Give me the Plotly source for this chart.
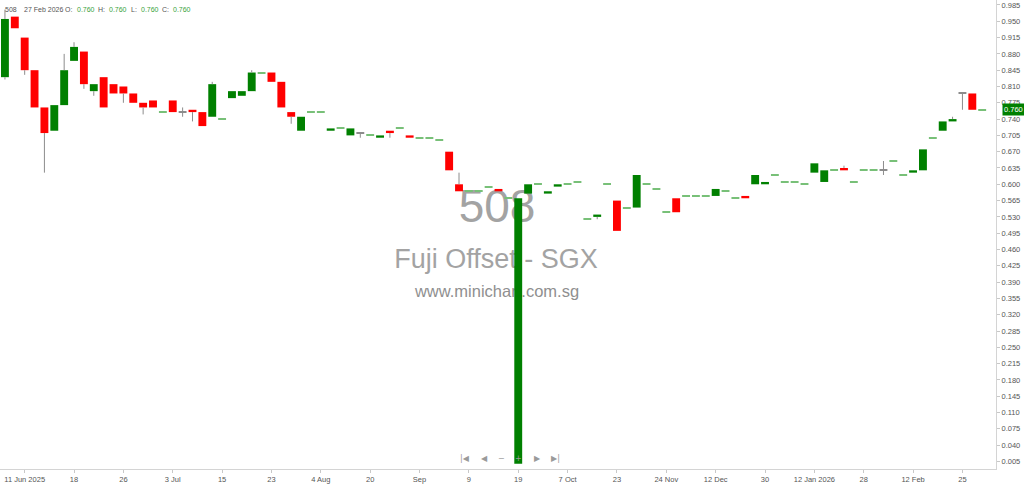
import plotly.graph_objects as go

# ---------------- data ----------------
opens = [0.830, 0.960, 0.915, 0.845, 0.765, 0.715, 0.770, 0.865, 0.885, 0.800,
         0.830, 0.815, 0.810, 0.795, 0.775, 0.780, 0.755, 0.780, 0.755, 0.760,
         0.755, 0.745, 0.740, 0.785, 0.790, 0.800, 0.840, 0.840, 0.820, 0.755,
         0.715, 0.755, 0.755, 0.715, 0.720, 0.705, 0.710, 0.705, 0.700, 0.715,
         0.720, 0.705, 0.700, 0.700, 0.695, 0.670, 0.600, 0.585, 0.585, 0.595,
         0.590, 0.570, 0.000, 0.580, 0.600, 0.580, 0.595, 0.600, 0.605, 0.525,
         0.530, 0.600, 0.565, 0.550, 0.550, 0.600, 0.590, 0.540, 0.570, 0.575,
         0.575, 0.575, 0.575, 0.585, 0.570, 0.575, 0.600, 0.600, 0.620, 0.605,
         0.605, 0.600, 0.625, 0.605, 0.630, 0.635, 0.605, 0.630, 0.630, 0.630,
         0.650, 0.620, 0.625, 0.630, 0.700, 0.715, 0.735, 0.795, 0.795, 0.760]
highs = [0.975, 0.960, 0.915, 0.845, 0.765, 0.770, 0.880, 0.905, 0.885, 0.815,
         0.830, 0.815, 0.810, 0.795, 0.775, 0.780, 0.755, 0.780, 0.765, 0.760,
         0.755, 0.820, 0.740, 0.800, 0.800, 0.845, 0.840, 0.840, 0.820, 0.755,
         0.745, 0.755, 0.755, 0.720, 0.720, 0.720, 0.710, 0.705, 0.705, 0.715,
         0.720, 0.705, 0.700, 0.700, 0.695, 0.670, 0.625, 0.585, 0.585, 0.595,
         0.590, 0.570, 0.570, 0.600, 0.600, 0.585, 0.600, 0.600, 0.605, 0.525,
         0.535, 0.600, 0.565, 0.550, 0.620, 0.600, 0.590, 0.540, 0.570, 0.575,
         0.575, 0.575, 0.590, 0.585, 0.570, 0.575, 0.620, 0.605, 0.620, 0.605,
         0.605, 0.600, 0.645, 0.630, 0.630, 0.640, 0.605, 0.630, 0.630, 0.650,
         0.650, 0.620, 0.630, 0.675, 0.700, 0.735, 0.745, 0.795, 0.795, 0.760]
lows = [0.825, 0.935, 0.835, 0.765, 0.625, 0.715, 0.770, 0.865, 0.805, 0.790,
        0.765, 0.795, 0.775, 0.775, 0.750, 0.765, 0.755, 0.755, 0.745, 0.735,
        0.725, 0.745, 0.740, 0.785, 0.790, 0.800, 0.840, 0.820, 0.765, 0.730,
        0.715, 0.755, 0.755, 0.715, 0.720, 0.705, 0.700, 0.705, 0.700, 0.700,
        0.720, 0.700, 0.700, 0.700, 0.695, 0.630, 0.585, 0.585, 0.585, 0.595,
        0.585, 0.570, 0.000, 0.580, 0.600, 0.580, 0.595, 0.600, 0.605, 0.525,
        0.525, 0.600, 0.500, 0.550, 0.550, 0.600, 0.590, 0.540, 0.540, 0.575,
        0.575, 0.575, 0.575, 0.585, 0.570, 0.570, 0.600, 0.600, 0.620, 0.605,
        0.605, 0.600, 0.625, 0.605, 0.630, 0.630, 0.605, 0.630, 0.630, 0.620,
        0.650, 0.620, 0.625, 0.630, 0.700, 0.715, 0.735, 0.760, 0.760, 0.760]
closes = [0.955, 0.935, 0.845, 0.765, 0.710, 0.770, 0.845, 0.895, 0.815, 0.815,
          0.765, 0.795, 0.795, 0.775, 0.765, 0.765, 0.755, 0.755, 0.755, 0.755,
          0.725, 0.815, 0.740, 0.800, 0.800, 0.840, 0.840, 0.820, 0.765, 0.745,
          0.745, 0.755, 0.755, 0.720, 0.720, 0.720, 0.710, 0.705, 0.705, 0.710,
          0.720, 0.700, 0.700, 0.700, 0.695, 0.630, 0.585, 0.585, 0.585, 0.595,
          0.585, 0.570, 0.570, 0.600, 0.600, 0.585, 0.600, 0.600, 0.605, 0.525,
          0.535, 0.600, 0.500, 0.550, 0.620, 0.600, 0.590, 0.540, 0.540, 0.575,
          0.575, 0.575, 0.590, 0.585, 0.570, 0.570, 0.620, 0.605, 0.620, 0.605,
          0.605, 0.600, 0.645, 0.630, 0.630, 0.630, 0.605, 0.630, 0.630, 0.630,
          0.650, 0.620, 0.630, 0.675, 0.700, 0.735, 0.740, 0.795, 0.760, 0.760]

x_tick_index = [2, 7, 12, 17, 22, 27, 32, 37, 42, 47, 52, 57, 62, 67, 72, 77, 82, 87, 92, 97]
x_tick_labels = ["11 Jun 2025", "18", "26", "3 Jul", "15", "23", "4 Aug", "20", "Sep", "9",
                 "19", "7 Oct", "23", "24 Nov", "12 Dec", "30", "12 Jan 2026", "28", "12 Feb", "25"]
y_tick_values = [0.005, 0.040, 0.075, 0.110, 0.145, 0.180, 0.215, 0.250, 0.285, 0.320,
                 0.355, 0.390, 0.425, 0.460, 0.495, 0.530, 0.565, 0.600, 0.635, 0.670,
                 0.705, 0.740, 0.775, 0.810, 0.845, 0.880, 0.915, 0.950, 0.985]
symbol = "508"
company = "Fuji Offset - SGX"
site = "www.minichart.com.sg"
last_date = "27 Feb 2026"

# ---------------- styling ----------------
UP = "#008000"
DOWN = "#ff0000"
DOJI = "#78c078"
WICK = "#8c8c8c"
TXT = "#555555"
VAL = "#3aa23a"
FONT = "Liberation Sans"
DOJI_H = 0.0022

idx = list(range(len(opens)))

# bodies
bases, heights, colors = [], [], []
for o, h, l, c in zip(opens, highs, lows, closes):
    if c > o:
        bases.append(o); heights.append(c - o); colors.append(UP)
    elif c < o:
        bases.append(c); heights.append(o - c); colors.append(DOWN)
    else:
        bases.append(o - DOJI_H / 2); heights.append(DOJI_H)
        colors.append(WICK if h > l else DOJI)

# wicks (only the parts outside the body)
wx, wy = [], []
for i, (o, h, l, c) in enumerate(zip(opens, highs, lows, closes)):
    top, bot = max(o, c), min(o, c)
    if h > top:
        wx += [i, i, None]; wy += [top, h, None]
    if l < bot:
        wx += [i, i, None]; wy += [l, bot, None]

fig = go.Figure()
fig.add_trace(go.Bar(x=idx, y=heights, base=bases, width=0.8,
                     marker=dict(color=colors, line=dict(width=0)),
                     hoverinfo="skip", showlegend=False))
fig.add_trace(go.Scatter(x=wx, y=wy, mode="lines",
                         line=dict(color=WICK, width=1),
                         hoverinfo="skip", showlegend=False))

W_PLOT, H_PLOT = 996, 469

def px(xp):
    return xp / W_PLOT

def py(yp):
    return 1 - yp / H_PLOT

# watermark (below traces)
shapes = []
for text, cx, cy, size, col in [
    (symbol, 497, 202, 46, "#a3a3a3"),
    (company, 496, 256, 27, "#a3a3a3"),
    (site, 497, 289, 16.5, "#8f8f8f"),
]:
    shapes.append(dict(type="rect", xref="paper", yref="paper",
                       x0=px(cx - 150), x1=px(cx + 150),
                       y0=py(cy + 20), y1=py(cy - 20),
                       line=dict(width=0), fillcolor="rgba(0,0,0,0)", layer="below",
                       label=dict(text=text, textposition="middle center",
                                  font=dict(family="Liberation Sans", size=size, color=col))))

annotations = []
# header
last_o, last_h, last_l, last_c = opens[-1], highs[-1], lows[-1], closes[-1]
header_parts = [
    (symbol, 3, TXT), (last_date, 22, TXT),
    ("O:", 63, TXT), (f"{last_o:.3f}", 75, VAL),
    ("H:", 96, TXT), (f"{last_h:.3f}", 107, VAL),
    ("L:", 129, TXT), (f"{last_l:.3f}", 139, VAL),
    ("C:", 160, TXT), (f"{last_c:.3f}", 171, VAL),
]
for text, xp, col in header_parts:
    annotations.append(dict(text=text, xref="paper", yref="paper", x=px(xp), y=py(10),
                            xanchor="left", yanchor="middle", showarrow=False,
                            font=dict(family=FONT, size=7, color=col)))

# navigation buttons
for text, xp in [("|◀", 465), ("◀", 484), ("−", 501), ("+", 518), ("▶", 537), ("▶|", 555)]:
    annotations.append(dict(text=text, xref="paper", yref="paper", x=px(xp), y=py(458),
                            xanchor="center", yanchor="middle", showarrow=False,
                            font=dict(family="DejaVu Sans", size=8, color="#9a9a9a")))

# last price tag
annotations.append(dict(text=f"{last_c:.3f}", xref="paper", yref="y", x=1, y=last_c,
                        xanchor="left", yanchor="middle", xshift=6, showarrow=False,
                        bgcolor=UP, borderpad=1,
                        font=dict(family=FONT, size=7.5, color="white")))

fig.update_layout(
    width=1024, height=484, autosize=False,
    margin=dict(l=0, r=1024 - W_PLOT, t=0, b=484 - H_PLOT, autoexpand=False),
    paper_bgcolor="white", plot_bgcolor="white",
    showlegend=False, barmode="overlay",
    shapes=shapes, annotations=annotations,
    xaxis=dict(range=[-0.5, 100.4], tickmode="array",
               tickvals=x_tick_index, ticktext=x_tick_labels,
               showgrid=False, zeroline=False, showline=True, linecolor="#d4d4d4",
               ticks="outside", ticklen=3, tickcolor="#c8c8c8", automargin=False,
               tickfont=dict(family=FONT, size=7.5, color=TXT), fixedrange=True),
    yaxis=dict(side="right", range=[-0.0113, 0.9957], tickmode="array",
               tickvals=y_tick_values, ticktext=[f"{v:.3f}" for v in y_tick_values],
               showgrid=False, zeroline=False, showline=True, linecolor="#d4d4d4",
               ticks="outside", ticklen=3, tickcolor="#c8c8c8", automargin=False,
               tickfont=dict(family=FONT, size=7.5, color=TXT), fixedrange=True),
)

fig.write_html("out.html", config={"displayModeBar": False},
               post_script="document.body.style.margin='0px';document.body.style.overflow='hidden';")
